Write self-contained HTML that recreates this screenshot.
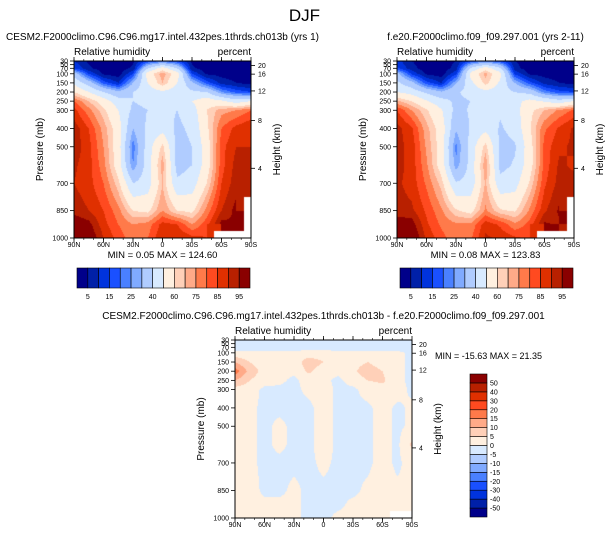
<!DOCTYPE html>
<html><head><meta charset="utf-8">
<style>
html,body{margin:0;padding:0;background:#fff;}
#wrap{position:relative;width:609px;height:538px;overflow:hidden;font-family:"Liberation Sans",Arial,sans-serif;}
canvas{position:absolute;}
svg{position:absolute;left:0;top:0;}
</style></head>
<body>
<div id="wrap">
<canvas id="c1"></canvas>
<canvas id="c2"></canvas>
<canvas id="c3"></canvas>
<svg id="s" width="609" height="538"></svg>
</div>
<script>
const lats = ["90N","75N","60N","45N","30N","15N","0","15S","30S","45S","60S","75S","90S"];
const levels = [30,70,100,150,200,250,300,400,500,600,700,850,925,1000];
const rh1 = [
[10,4,2,2,4,15,20,15,4,2,2,2,2],
[15,6,2,2,6,40,55,40,6,2,2,2,2],
[35,15,4,2,15,55,68,55,15,4,3,2,2],
[48,35,18,10,30,50,65,50,32,18,8,5,3],
[60,50,40,32,40,45,48,45,42,40,25,18,15],
[75,65,55,45,40,42,43,44,50,56,52,45,50],
[82,72,62,50,38,40,42,40,45,60,68,70,75],
[88,80,68,55,30,42,46,38,42,58,75,82,85],
[88,82,70,55,22,45,62,36,40,55,78,85,85],
[86,82,72,55,25,45,68,36,40,55,78,87,90],
[85,82,75,62,40,45,65,42,45,60,80,88,88],
[88,85,80,72,60,58,70,60,58,72,85,92,null],
[95,92,82,75,70,72,82,80,70,78,92,90,null],
[97,96,85,78,72,75,85,85,82,80,null,null,null]];
const rh2 = [
[12,5,2,2,5,16,22,16,5,2,2,2,2],
[16,7,2,2,7,42,56,42,7,2,2,2,2],
[33,14,4,2,14,53,67,53,14,4,3,2,2],
[42,33,17,10,29,47,63,48,30,17,8,5,3],
[50,46,38,31,39,43,47,44,40,37,23,17,15],
[66,60,51,44,38,40,42,45,47,53,49,44,50],
[80,70,61,51,37,41,43,41,46,58,65,71,76],
[87,81,67,56,31,41,47,39,43,59,74,81,86],
[87,83,69,56,23,44,63,37,39,56,77,84,86],
[87,83,71,56,26,44,69,37,41,56,77,86,84],
[86,83,74,63,41,44,66,43,46,61,79,87,87],
[87,86,79,71,61,57,71,61,59,71,84,91,null],
[94,93,81,74,71,71,83,79,71,77,91,89,null],
[96,97,84,77,71,74,86,84,81,79,null,null,null]];
const diff = [
[-2,-2,-2,-2,-2,-2,-2,-2,-2,-2,-2,-2,-2],
[-2,-2,-2,-2,-2,-2,-2,-2,-2,-2,-2,-2,-2],
[1,1,1,1,1,2,2,1,1,1,1,1,-1],
[10,5,2,1,2,8,5,1,3,5,2,1,-1],
[18,8,3,1,1,6,2,1,4,8,5,1,-1],
[10,5,2,1,-1,2,1,-1,2,5,6,1,-1],
[3,2,-1,-1,-1,1,2,-1,-1,2,3,2,-1],
[2,1,-1,-1,-1,-1,2,-1,-1,-1,2,-1,1],
[2,1,-1,1,-1,-1,2,-1,-1,-1,2,-1,1],
[2,1,-1,1,-1,-1,2,-1,-1,-1,2,-1,6],
[2,1,-1,-1,-1,-1,1,-1,-1,-1,2,-1,2],
[1,2,-1,-1,1,-1,-1,-1,-1,1,2,1,1],
[1,2,1,1,1,-1,-1,-1,1,1,2,1,1],
[1,2,1,1,1,-1,-1,1,1,1,1,null,null]];
const rhLevels = [5,10,15,20,25,30,40,50,60,65,70,75,80,85,90];
const rhLabels = ["5","15","25","40","60","75","85","95"];
const diffLevels = [-50,-40,-30,-20,-15,-10,-5,0,5,10,15,20,30,40,50];
const diffLabels = ["-50","-40","-30","-20","-15","-10","-5","0","5","10","15","20","30","40","50"];
const pTicks = [1000,850,700,500,400,300,250,200,150,100,70,50,30];
const hTicks = [4,8,12,16,20];
const hPress = [618,356,194,102,55];
const xTickLabels = ["90N","60N","30N","0","30S","60S","90S"];
const colors = ["#00008a","#0020a8","#0033dd","#1a50ff","#4a80ff","#80aaff","#b0ccff","#d8eaff","#fff0e0","#ffd0b8","#ffaa88","#ff7a4a","#ff4a20","#e03000","#b82000","#8a0000"];

const S = document.getElementById('s');
const NS = 'http://www.w3.org/2000/svg';
function el(tag, attrs, parent){const e=document.createElementNS(NS,tag);for(const k in attrs)e.setAttribute(k,attrs[k]);(parent||S).appendChild(e);return e;}
function txt(x,y,s,size,anchor,parent,extra){const t=el('text',Object.assign({x:x,y:y,'font-size':size,'text-anchor':anchor||'start','font-family':'Liberation Sans, Arial, sans-serif',fill:'#000'},extra||{}),parent);t.textContent=s;return t;}

function colorFor(v,lv){let i=0;while(i<lv.length&&v>=lv[i])i++;return colors[i];}
function hex(c){return [parseInt(c.substr(1,2),16),parseInt(c.substr(3,2),16),parseInt(c.substr(5,2),16)];}

function drawField(id,data,lv,x0,y0,w,h){
  const c=document.getElementById(id);c.width=w;c.height=h;c.style.left=x0+'px';c.style.top=y0+'px';
  const ctx=c.getContext('2d');const img=ctx.createImageData(w,h);
  for(let py=0;py<h;py++){
    const p=30+(py+0.5)/h*970;
    let j=0;while(j<levels.length-2&&p>levels[j+1])j++;
    const fy=Math.min(1,Math.max(0,(p-levels[j])/(levels[j+1]-levels[j])));
    for(let px=0;px<w;px++){
      const fx=(px+0.5)/w*(lats.length-1);let i=Math.min(lats.length-2,Math.floor(fx));const tx=fx-i;
      const a=data[j][i],b=data[j][i+1],cc=data[j+1][i],d=data[j+1][i+1];
      const k=(py*w+px)*4;let col;
      if(a===null||b===null||cc===null||d===null){
        const near=data[fy<0.5?j:j+1][tx<0.5?i:i+1];
        if(near===null){col=[255,255,255];}
        else{const vals=[a,b,cc,d].filter(v=>v!==null);const v=vals.reduce((s,q)=>s+q,0)/vals.length;col=hex(colorFor(v,lv));}
      } else {
        const v=(a*(1-tx)+b*tx)*(1-fy)+(cc*(1-tx)+d*tx)*fy;col=hex(colorFor(v,lv));
      }
      img.data[k]=col[0];img.data[k+1]=col[1];img.data[k+2]=col[2];img.data[k+3]=255;
    }
  }
  ctx.putImageData(img,0,0);
}

function axes(x0,y0,w,h,title,prefix){
  const g=el('g',{});
  
  
  const yP=p=>y0+(p-30)/970*h;
  el('rect',{x:x0,y:y0,width:w,height:h,fill:'none',stroke:'#000','stroke-width':1},g);
  pTicks.forEach(p=>{const y=yP(p);el('line',{x1:x0-4,x2:x0,y1:y,y2:y,stroke:'#000','stroke-width':0.8},g);
    txt(x0-6,y+2.5,String(p),7,'end',g);});
  hTicks.forEach((hk,i)=>{const y=yP(hPress[i]);el('line',{x1:x0+w,x2:x0+w+4,y1:y,y2:y,stroke:'#000','stroke-width':0.8},g);
    txt(x0+w+7,y+2.5,String(hk),7,'start',g);});
  xTickLabels.forEach((s,i)=>{const x=x0+i*w/6;
    el('line',{x1:x,x2:x,y1:y0+h,y2:y0+h+4,stroke:'#000','stroke-width':0.8},g);
    el('line',{x1:x,x2:x,y1:y0,y2:y0-4,stroke:'#000','stroke-width':0.8},g);
    txt(x,y0+h+9,s,7,'middle',g);});
  for(let i=0;i<18;i++){const x=x0+i*w/18;
    el('line',{x1:x,x2:x,y1:y0+h,y2:y0+h+2,stroke:'#000','stroke-width':0.6},g);
    el('line',{x1:x,x2:x,y1:y0,y2:y0-2,stroke:'#000','stroke-width':0.6},g);}
  const t1=txt(x0,y0-6,'Relative humidity',10,'start',g);
  
  const t2=txt(x0+w,y0-6,'percent',10,'end',g);
  
  const yl=txt(0,0,'Pressure (mb)',10,'middle',g,{transform:`translate(${x0-31},${y0+h/2}) rotate(-90)`});
  
  const hl=txt(0,0,'Height (km)',10,'middle',g,{transform:`translate(${x0+w+29},${y0+h/2}) rotate(-90)`});
  
  const tt=txt(x0+w/2,y0-21,title,10,'middle',g);
  
}

function hbar(x0,y0,w,h,prefix){
  const g=el('g',{});
  
  
  const bw=w/16;
  colors.forEach((c,i)=>el('rect',{x:x0+i*bw,y:y0,width:bw,height:h,fill:c,stroke:'#000','stroke-width':0.6},g));
  rhLabels.forEach((s,i)=>txt(x0+(2*i+1)*bw,y0+h+11,s,7,'middle',g));
}
function vbar(x0,y0,w,h){
  const g=el('g',{});
  
  
  const bh=h/16;
  colors.forEach((c,i)=>el('rect',{x:x0,y:y0+(15-i)*bh,width:w,height:bh,fill:c,stroke:'#000','stroke-width':0.6},g));
  diffLabels.forEach((s,i)=>txt(x0+w+3,y0+(15-i)*bh+2.5,s,7,'start',g));
}

drawField('c1',rh1,rhLevels,74,61,177,177);
drawField('c2',rh2,rhLevels,397,61,177,177);
drawField('c3',diff,diffLevels,235,340,177,178);

const dt=txt(304.5,21,'DJF',17,'middle');

axes(74,61,177,177,'CESM2.F2000climo.C96.C96.mg17.intel.432pes.1thrds.ch013b (yrs 1)','panel1');
axes(397,61,177,177,'f.e20.F2000climo.f09_f09.297.001 (yrs 2-11)','panel2');
axes(235,340,177,178,'CESM2.F2000climo.C96.C96.mg17.intel.432pes.1thrds.ch013b - f.e20.F2000climo.f09_f09.297.001','panel3');
const m1=txt(162.5,258,'MIN =   0.05  MAX = 124.60',9.5,'middle',null,{'xml:space':'preserve'});

const m2=txt(485.5,258,'MIN =   0.08  MAX = 123.83',9.5,'middle',null,{'xml:space':'preserve'});

const m3=txt(435,359,'MIN = -15.63  MAX =  21.35',9,'start',null,{'xml:space':'preserve'});

hbar(77,268,173,20,'panel1');
hbar(400,268,173,20,'panel2');
vbar(470,374,17,143);
</script>
</body></html>
